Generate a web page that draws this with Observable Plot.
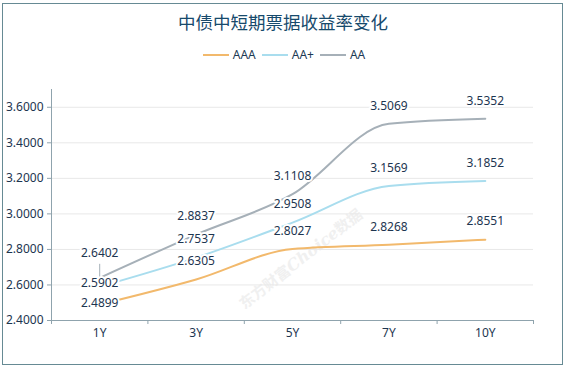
<!DOCTYPE html>
<html>
<head>
<meta charset="utf-8">
<script src="https://cdn.jsdelivr.net/npm/d3@7"></script>
<script src="https://cdn.jsdelivr.net/npm/@observablehq/plot@0.6"></script>
<style>
  html, body { margin: 0; padding: 0; background: #fff; }
  #wrap { position: relative; width: 566px; height: 369px; overflow: hidden; background: #fff;
          font-family: "Noto Sans", "Noto Sans CJK SC", sans-serif; }
  #frame { position: absolute; left: 2px; top: 3px; width: 561px; height: 362px; box-sizing: border-box;
           border: 1.5px solid #668a94; pointer-events: none; }
  #title { position: absolute; left: 0; top: 9px; width: 566px; text-align: center;
           font-family: "Noto Sans CJK SC", sans-serif; font-size: 17.5px; color: #174a6c; line-height: 26px; }
  #legend { position: absolute; left: 0; top: 47px; width: 566px; display: flex; justify-content: center;
            font-size: 12px; color: #1d3a55; line-height: 16px; padding-left: 2px; box-sizing: border-box; }
  .item { display: flex; align-items: center; margin: 0 3px; }
  .sw { width: 26px; height: 2px; margin-right: 4px; }
  #wm { position: absolute; left: 300px; top: 258px; transform: translate(-50%, -50%) rotate(-38deg);
        font-family: "Noto Sans CJK SC", sans-serif; font-weight: bold; font-size: 15px; color: #f0f0f0;
        white-space: nowrap; }
  #wm i { font-family: "DejaVu Serif", serif; font-size: 16px; }
  #chart { position: absolute; left: 0; top: 70px; }
</style>
</head>
<body>
<div id="wrap">
  <div id="wm">东方财富<i>Choice</i>数据</div>
  <div id="title">中债中短期票据收益率变化</div>
  <div id="legend"></div>
  <div id="chart"></div>
  <div id="frame"></div>
</div>
<script>
const categories = ["1Y", "3Y", "5Y", "7Y", "10Y"];
const seriesNames = ["AAA", "AA+", "AA"];
const AAA = [2.4899, 2.6305, 2.8027, 2.8268, 2.8551];
const AAplus = [2.5902, 2.7537, 2.9508, 3.1569, 3.1852];
const AA = [2.6402, 2.8837, 3.1108, 3.5069, 3.5352];
const yTicks = [2.4, 2.6, 2.8, 3.0, 3.2, 3.4, 3.6];
const colors = {"AAA": "#f2b96c", "AA+": "#a9ddee", "AA": "#a6b0b8"};

const seriesValues = {"AAA": AAA, "AA+": AAplus, "AA": AA};
const rows = [];
for (const s of seriesNames) {
  seriesValues[s].forEach((v, i) => rows.push({series: s, cat: categories[i], i, value: v}));
}

// legend
const legend = document.getElementById("legend");
for (const s of seriesNames) {
  const it = document.createElement("div");
  it.className = "item";
  it.innerHTML = `<span class="sw" style="background:${colors[s]}"></span><span>${s}</span>`;
  legend.appendChild(it);
}

const W = 566, H = 280, mT = 19, mB = 30, mL = 51, mR = 33;
const yDomain = [2.4, 3.7];
const pxToUnits = (yDomain[1] - yDomain[0]) / (H - mT - mB);
// label offsets (pixels above point); first column was de-overlapped in the original
const labelShift = (d) => d.i === 0 ? ({"AAA": 1, "AA+": 4, "AA": 25})[d.series] : 18;

const axisColor = "#8fa3ad";
const textColor = "#1d3550";

const plot = Plot.plot({
  width: W, height: H,
  marginTop: mT, marginBottom: mB, marginLeft: mL, marginRight: mR,
  style: {background: "transparent", fontSize: "12px", fontFamily: "'Noto Sans', sans-serif", color: textColor},
  x: {domain: [0, categories.length], axis: null},
  y: {domain: yDomain, axis: null},
  marks: [
    Plot.ruleY(yTicks.slice(1), {stroke: "#e8e8e8"}),
    Plot.ruleX([0], {stroke: axisColor}),
    Plot.ruleY([2.4], {stroke: axisColor}),
    Plot.axisY({ticks: yTicks, tickFormat: d3.format(".4f"), tickSize: 4, tickPadding: 4,
                stroke: axisColor, fill: textColor, label: null}),
    Plot.axisX({ticks: d3.range(categories.length + 1), tickFormat: () => "", tickSize: 4,
                stroke: axisColor, label: null}),
    Plot.axisX({ticks: categories.map((c, i) => i + 0.5), tickFormat: (t) => categories[Math.floor(t)],
                tickSize: 0, tickPadding: 8, fill: textColor, label: null}),
    ...seriesNames.map(s => Plot.line(rows.filter(r => r.series === s), {
      x: d => d.i + 0.5, y: "value", stroke: colors[s], strokeWidth: 2, curve: "monotone-x"
    })),
    // leader line for the displaced AA label at 1Y
    Plot.link(rows.filter(r => r.series === "AA" && r.i === 0), {
      x1: d => d.i + 0.5, x2: d => d.i + 0.5,
      y1: "value", y2: d => d.value + (labelShift(d) - 11) * pxToUnits,
      stroke: colors["AA"], strokeWidth: 1
    }),
    Plot.text(rows, {
      x: d => d.i + 0.5, y: d => d.value + labelShift(d) * pxToUnits,
      text: d => d3.format(".4f")(d.value), fill: textColor,
      stroke: "white", strokeWidth: 4, paintOrder: "stroke"
    })
  ]
});
document.getElementById("chart").appendChild(plot);
</script>
</body>
</html>
